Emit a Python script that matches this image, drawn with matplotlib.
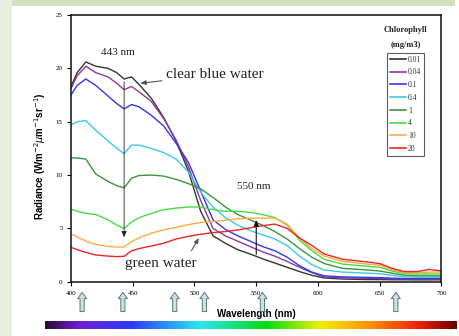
import matplotlib
matplotlib.use("Agg")
import matplotlib.pyplot as plt
import numpy as np
from matplotlib.colors import LinearSegmentedColormap
from matplotlib.patches import Rectangle
import matplotlib.transforms as mtransforms

# ---------------- data ----------------
wavelength = [400, 405, 412, 420, 430, 437, 443, 449, 455, 465, 475, 485, 495, 505, 515,
              525, 535, 545, 555, 565, 575, 585, 595, 605, 620, 640, 650, 660, 670, 680, 690, 700]

chl_001 = [18.3, 19.6, 20.6, 20.2, 20.0, 19.6, 19.0, 19.2, 18.5, 17.2, 15.4, 13.2, 10.4, 6.6, 4.3,
           3.6, 3.0, 2.6, 2.15, 1.75, 1.35, 0.95, 0.6, 0.35, 0.25, 0.2, 0.2, 0.18, 0.18, 0.17, 0.17, 0.18]
chl_004 = [18.1, 19.3, 20.2, 19.6, 19.2, 18.6, 18.0, 18.3, 17.8, 16.9, 15.3, 13.3, 10.8, 7.6, 5.0,
           4.3, 3.8, 3.3, 2.8, 2.4, 1.9, 1.35, 0.85, 0.45, 0.35, 0.32, 0.3, 0.27, 0.25, 0.25, 0.25, 0.25]
chl_01 = [17.5, 18.4, 19.0, 18.4, 17.4, 16.7, 16.2, 16.6, 16.4, 15.6, 14.6, 13.0, 11.2, 8.5, 5.8,
          4.9, 4.3, 3.8, 3.3, 2.9, 2.3, 1.5, 0.9, 0.55, 0.45, 0.4, 0.38, 0.33, 0.3, 0.28, 0.3, 0.3]
chl_04 = [14.7, 15.0, 15.1, 14.2, 13.2, 12.5, 12.0, 12.8, 12.8, 12.5, 12.1, 11.5, 10.3, 8.4, 7.0,
          6.0, 5.3, 4.8, 4.4, 4.0, 3.4, 2.4, 1.6, 1.1, 0.9, 0.8, 0.75, 0.6, 0.45, 0.42, 0.42, 0.42]
chl_1 = [11.6, 11.6, 11.5, 10.1, 9.4, 9.0, 8.8, 9.7, 9.95, 10.0, 9.9, 9.6, 9.2, 8.7, 7.9,
         7.0, 6.3, 5.8, 5.3, 4.7, 4.0, 3.1, 2.3, 1.7, 1.25, 1.1, 1.0, 0.8, 0.6, 0.55, 0.55, 0.55]
chl_4 = [6.8, 6.6, 6.4, 6.3, 5.8, 5.3, 5.0, 5.6, 6.0, 6.4, 6.75, 6.9, 7.0, 7.0, 6.75,
         6.6, 6.6, 6.5, 6.3, 6.0, 5.3, 3.9, 2.9, 2.1, 1.65, 1.45, 1.35, 1.0, 0.75, 0.72, 0.72, 0.72]
chl_10 = [4.5, 4.2, 3.8, 3.5, 3.3, 3.25, 3.25, 3.75, 4.1, 4.55, 4.85, 5.1, 5.35, 5.55, 5.65,
          5.75, 5.9, 5.95, 5.97, 5.95, 5.4, 4.1, 3.1, 2.4, 1.9, 1.65, 1.55, 1.1, 0.85, 0.85, 0.9, 0.9]
chl_20 = [3.22, 3.0, 2.75, 2.5, 2.4, 2.35, 2.38, 2.9, 3.1, 3.35, 3.6, 4.0, 4.25, 4.45, 4.6,
          4.7, 4.85, 5.05, 5.25, 5.4, 5.0, 4.1, 3.4, 2.6, 2.1, 1.85, 1.7, 1.25, 0.95, 0.95, 1.15, 1.0]

series = [chl_001, chl_004, chl_01, chl_04, chl_1, chl_4, chl_10, chl_20]
labels = ["0.01", "0.04", "0.1", "0.4", "1", "4", "10", "20"]
colors = ["#333333", "#8e3a96", "#3535ee", "#3cc8ea", "#3a963a", "#46dc46", "#ffaa44", "#ee2424"]

x_ticks = [400, 450, 500, 550, 600, 650, 700]
y_ticks = [0, 5, 10, 15, 20, 25]
band_arrows = [409, 442, 484, 508, 555, 663]

serif = "Liberation Serif"
sans = "Liberation Sans"

# ---------------- figure ----------------
W, H = 460, 336
fig = plt.figure(figsize=(W / 100, H / 100), dpi=100)
fig.patch.set_facecolor("white")
fig.patches.append(Rectangle((0, 0), 12 / W, 1, transform=fig.transFigure,
                             facecolor="#e7eedd", edgecolor="none", zorder=-5))
fig.patches.append(Rectangle((12 / W, 1 - 6 / H), (455 - 12) / W, 6 / H, transform=fig.transFigure,
                             facecolor="#d3e2bc", edgecolor="none", zorder=-5))

ax = fig.add_axes([71 / W, 1 - 281.7 / H, (441.5 - 71) / W, (281.7 - 15) / H])
ax.set_facecolor("white")

handles = []
for vals, lab, col in zip(series, labels, colors):
    ln, = ax.plot(wavelength, vals, color=col, lw=1.0, label=lab)
    handles.append(ln)

ax.set_xlim(400, 700)
ax.set_ylim(0, 25)
ax.set_xticks(x_ticks)
ax.set_yticks(y_ticks)
ax.set_xticklabels([str(t) for t in x_ticks], fontfamily=serif, fontsize=5)
ax.set_yticklabels([str(t) for t in y_ticks], fontfamily=serif, fontsize=5)
ax.tick_params(axis="both", direction="out", length=3, width=0.8, pad=3)
ax.tick_params(axis="x", pad=4)
for s in ax.spines.values():
    s.set_linewidth(1.1)
    s.set_color("#111111")

ax.set_xlabel("Wavelength (nm)", fontfamily=sans, fontweight="bold", fontsize=7, labelpad=9)
ax.set_ylabel("Radiance (Wm$^{-2}$$\\mu$m$^{-1}$sr$^{-1}$)", fontfamily=sans,
              fontweight="bold", fontsize=7, labelpad=8)
ax.yaxis.set_label_coords(-0.062, 0.47)

# annotations
ax.annotate("", xy=(443, 3.9), xytext=(443, 19.0),
            arrowprops=dict(arrowstyle="-|>,head_length=0.35,head_width=0.15", color="#222222", lw=0.6))
ax.text(438, 21.5, "443 nm", fontfamily=serif, fontsize=8, ha="center", va="center", color="#222222")
ax.annotate("", xy=(550, 6.05), xytext=(550, 2.3),
            arrowprops=dict(arrowstyle="-|>,head_length=0.35,head_width=0.15", color="#111111", lw=0.8))
ax.text(548, 8.9, "550 nm", fontfamily=serif, fontsize=8, ha="center", va="center", color="#222222")
ax.annotate("clear blue water", xy=(456, 18.6), xytext=(477, 19.4), fontfamily=serif, fontsize=11,
            va="center", ha="left", color="#222222",
            arrowprops=dict(arrowstyle="-|>,head_length=0.3,head_width=0.12", color="#555555", lw=0.8,
                            shrinkA=1, shrinkB=0))
ax.text(473, 1.7, "green water", fontfamily=serif, fontsize=11, ha="center", va="center", color="#222222")
ax.annotate("", xy=(503.5, 4.1), xytext=(497.5, 2.9),
            arrowprops=dict(arrowstyle="-|>,head_length=0.3,head_width=0.12", color="#555555", lw=0.8,
                            shrinkA=0, shrinkB=0))

# legend
fig.text(405.5 / W, 1 - 30 / H, "Chlorophyll", fontfamily=serif, fontweight="bold", fontsize=6,
         ha="center", va="center", color="#222222")
fig.text(405.5 / W, 1 - 45 / H, "(mg/m3)", fontfamily=serif, fontweight="bold", fontsize=6,
         ha="center", va="center", color="#222222")
leg = ax.legend(handles=handles, loc="upper left",
                bbox_to_anchor=((387 - 71) / 370.5, (281.7 - 53) / 266.7),
                borderaxespad=0, frameon=True, fancybox=False, handlelength=2.2,
                handletextpad=0.2, labelspacing=0.62, borderpad=0.35,
                prop={"family": serif, "size": 5.5})
leg.get_frame().set_edgecolor("#333333")
leg.get_frame().set_linewidth(0.8)
for t in leg.get_texts():
    t.set_color("#333333")
for lh in leg.get_lines():
    lh.set_linewidth(1.2)

# band arrows below the axis
trans = mtransforms.blended_transform_factory(ax.transData, ax.transAxes)
for b in band_arrows:
    ax.annotate("", xy=(b, -0.040), xytext=(b, -0.112), xycoords=trans, textcoords=trans,
                annotation_clip=False,
                arrowprops=dict(arrowstyle="simple,head_length=0.45,head_width=0.65,tail_width=0.3",
                                fc="#cfe0de", ec="#5b7b7b", lw=0.7, shrinkA=0, shrinkB=0))

# spectrum bar
spec_cols = [(0.0, "#2a0838"), (0.08, "#7020d0"), (0.21, "#2a3cff"), (0.376, "#28e8f0"),
             (0.538, "#00dc10"), (0.668, "#f0f000"), (0.78, "#ff9a00"), (0.91, "#f02000"),
             (1.0, "#6a0000")]
cmap = LinearSegmentedColormap.from_list("spec", spec_cols)
cax = fig.add_axes([45 / W, 1 - 329.5 / H, (456.7 - 45) / W, 8.5 / H])
cax.imshow(np.linspace(0, 1, 512)[None, :], aspect="auto", cmap=cmap, extent=(0, 1, 0, 1))
cax.axis("off")

fig.savefig("out.png", dpi=100, facecolor=fig.get_facecolor())
